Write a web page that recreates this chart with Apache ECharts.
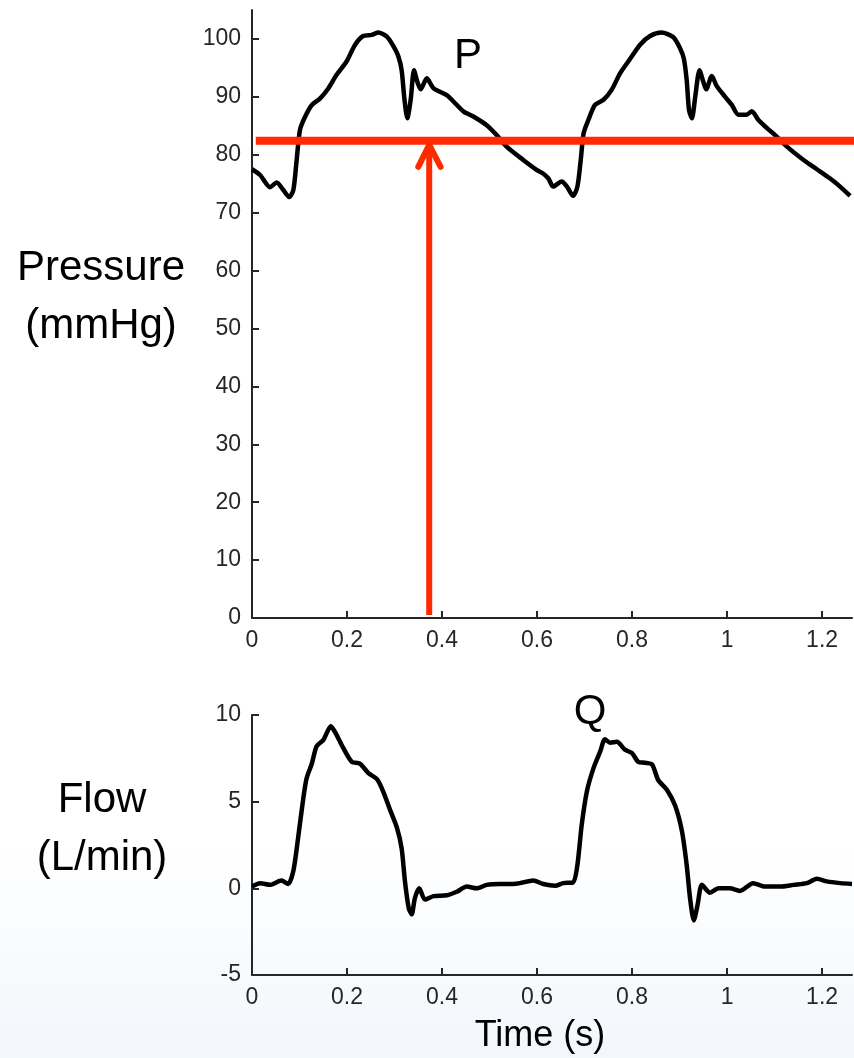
<!DOCTYPE html>
<html>
<head>
<meta charset="utf-8">
<script src="https://cdn.jsdelivr.net/npm/echarts@6/dist/echarts.min.js"></script>
<style>
  html, body { margin: 0; padding: 0; background: #ffffff; }
  #chart { width: 854px; height: 1058px; }
</style>
</head>
<body>
<div id="chart"></div>
<script>
// ---------------- DATA ----------------
const pressureTime = [0.000,0.017,0.038,0.052,0.066,0.078,0.087,0.094,0.101,0.112,0.126,0.143,0.161,0.178,0.199,0.217,0.234,0.252,0.266,0.284,0.298,0.308,0.315,0.321,0.327,0.334,0.341,0.348,0.355,0.368,0.382,0.410,0.424,0.445,0.466,0.494,0.515,0.536,0.571,0.599,0.612,0.624,0.634,0.652,0.663,0.676,0.685,0.692,0.698,0.708,0.722,0.740,0.757,0.775,0.792,0.817,0.838,0.862,0.887,0.901,0.909,0.915,0.920,0.926,0.933,0.942,0.950,0.956,0.968,0.978,0.996,1.010,1.024,1.041,1.052,1.066,1.084,1.101,1.126,1.161,1.189,1.217,1.238,1.259];
const pressureValue = [77.5,76.5,74.4,75.2,73.9,72.7,73.9,79.1,84.3,86.6,88.6,89.7,91.5,93.8,96.1,99.0,100.5,100.7,101.1,100.4,98.7,97.0,94.6,89.5,86.3,89.5,94.6,92.6,91.3,93.2,91.5,90.3,89.2,87.5,86.6,85.1,83.4,81.4,79.1,77.4,76.8,75.9,74.5,75.4,74.5,72.9,74.5,79.1,83.7,86.0,88.6,89.5,91.2,94.1,96.1,99.0,100.5,101.1,100.3,98.4,96.6,92.9,87.7,86.3,90.0,94.6,92.6,91.3,93.6,91.9,90.0,88.6,86.9,86.9,87.5,86.0,84.6,83.4,81.4,79.1,77.5,75.9,74.5,72.9];

const flowTime = [0.000,0.017,0.038,0.062,0.076,0.087,0.097,0.108,0.115,0.126,0.136,0.150,0.166,0.178,0.192,0.210,0.227,0.245,0.263,0.276,0.291,0.305,0.315,0.322,0.330,0.336,0.343,0.352,0.364,0.382,0.410,0.431,0.452,0.473,0.494,0.522,0.550,0.564,0.592,0.613,0.638,0.655,0.676,0.685,0.694,0.705,0.719,0.733,0.743,0.754,0.768,0.785,0.800,0.813,0.827,0.842,0.855,0.873,0.891,0.905,0.915,0.922,0.930,0.938,0.947,0.964,0.982,1.006,1.027,1.055,1.080,1.112,1.140,1.168,1.189,1.210,1.238,1.263];
const flowValue = [0.1,0.3,0.2,0.45,0.25,1.0,2.9,5.2,6.35,7.2,8.2,8.55,9.35,8.85,8.1,7.3,7.2,6.65,6.3,5.6,4.5,3.5,2.3,0.4,-1.15,-1.5,-0.55,0.0,-0.65,-0.45,-0.4,-0.2,0.1,0.0,0.2,0.25,0.25,0.3,0.45,0.25,0.15,0.3,0.35,1.35,3.65,5.6,6.95,7.9,8.6,8.4,8.45,8.0,7.8,7.3,7.25,7.15,6.25,5.7,4.75,3.3,1.35,-0.55,-1.85,-0.95,0.2,-0.25,0.0,0.0,-0.15,0.3,0.1,0.1,0.2,0.3,0.55,0.4,0.3,0.25];

// Red reference marks (data coordinates)
const meanPressure = 82.4;
const meanLineTime = [0.008, 1.27];
const arrowTime = 0.373;
const arrowBase = 0.5;
const arrowTip = 81.7;
const arrowHeadTime = [0.350, 0.373, 0.397];
const arrowHeadValue = [77.9, 81.7, 77.9];

const xTicks = [0, 0.2, 0.4, 0.6, 0.8, 1, 1.2];
const pressureTicks = [0,10,20,30,40,50,60,70,80,90,100];
const flowTicks = [-5, 0, 5, 10];

// ---------------- CHART ----------------
const FONT = '"Liberation Sans", Arial, Helvetica, sans-serif';
const AXIS_COLOR = '#262626';
const zip = (a, b) => a.map((v, i) => [v, b[i]]);

const chart = echarts.init(document.getElementById('chart'), null, { renderer: 'canvas' });

function xAxisCfg(gridIndex) {
  return {
    type: 'value', gridIndex, min: 0, max: 1.263,
    axisLine: { show: true, onZero: false, lineStyle: { color: AXIS_COLOR, width: 2 } },
    axisTick: { show: true, inside: true, length: 7, customValues: xTicks, lineStyle: { color: AXIS_COLOR, width: 2 } },
    axisLabel: { show: true, customValues: xTicks, margin: 11, color: AXIS_COLOR, fontSize: 23, fontFamily: FONT,
                 formatter: v => String(v) },
    splitLine: { show: false }
  };
}
function yAxisCfg(gridIndex, min, max, ticks) {
  return {
    type: 'value', gridIndex, min, max,
    axisLine: { show: true, onZero: false, lineStyle: { color: AXIS_COLOR, width: 2 } },
    axisTick: { show: true, inside: true, length: 7, customValues: ticks, lineStyle: { color: AXIS_COLOR, width: 2 } },
    axisLabel: { show: true, customValues: ticks, margin: 11, color: AXIS_COLOR, fontSize: 23, fontFamily: FONT },
    splitLine: { show: false }
  };
}

const option = {
  animation: false,
  backgroundColor: '#ffffff',
  grid: [
    { left: 252, top: 10, width: 600, height: 608 },
    { left: 252, top: 715, width: 600, height: 260 }
  ],
  xAxis: [xAxisCfg(0), xAxisCfg(1)],
  yAxis: [yAxisCfg(0, 0, 105, pressureTicks), yAxisCfg(1, -5, 10, flowTicks)],
  graphic: [
    { type: 'rect', z: -10, silent: true, shape: { x: 0, y: 840, width: 854, height: 218 },
      style: { fill: new echarts.graphic.LinearGradient(0, 0, 0, 1, [
        { offset: 0, color: 'rgba(232,240,249,0)' },
        { offset: 1, color: 'rgba(232,240,249,0.55)' }
      ]) } },
    { type: 'text', silent: true, x: 101, y: 268, style: { text: 'Pressure', font: '42px ' + FONT, fill: '#000', align: 'center', verticalAlign: 'middle' } },
    { type: 'text', silent: true, x: 101, y: 326, style: { text: '(mmHg)', font: '42px ' + FONT, fill: '#000', align: 'center', verticalAlign: 'middle' } },
    { type: 'text', silent: true, x: 102, y: 800, style: { text: 'Flow', font: '42px ' + FONT, fill: '#000', align: 'center', verticalAlign: 'middle' } },
    { type: 'text', silent: true, x: 102, y: 858, style: { text: '(L/min)', font: '42px ' + FONT, fill: '#000', align: 'center', verticalAlign: 'middle' } },
    { type: 'text', silent: true, x: 540, y: 1036, style: { text: 'Time (s)', font: '36px ' + FONT, fill: '#000', align: 'center', verticalAlign: 'middle' } },
    { type: 'text', silent: true, x: 468, y: 56, style: { text: 'P', font: '42px ' + FONT, fill: '#000', align: 'center', verticalAlign: 'middle' } },
    { type: 'text', silent: true, x: 590, y: 712, style: { text: 'Q', font: '42px ' + FONT, fill: '#000', align: 'center', verticalAlign: 'middle' } }
  ],
  series: [
    { type: 'line', xAxisIndex: 0, yAxisIndex: 0, data: zip(pressureTime, pressureValue),
      showSymbol: false, smooth: 0.25, lineStyle: { color: '#000', width: 4.5, join: 'round' }, z: 3 },
    { type: 'line', xAxisIndex: 1, yAxisIndex: 1, data: zip(flowTime, flowValue),
      showSymbol: false, smooth: 0.25, lineStyle: { color: '#000', width: 4.5, join: 'round' }, z: 3 },
    { type: 'line', xAxisIndex: 0, yAxisIndex: 0, clip: false,
      data: meanLineTime.map(t => [t, meanPressure]),
      showSymbol: false, lineStyle: { color: '#ff2a00', width: 8 }, z: 4 },
    { type: 'line', xAxisIndex: 0, yAxisIndex: 0,
      data: [[arrowTime, arrowBase], [arrowTime, arrowTip - 1.2]],
      showSymbol: false, lineStyle: { color: '#ff2a00', width: 6 }, z: 4 },
    { type: 'line', xAxisIndex: 0, yAxisIndex: 0,
      data: zip(arrowHeadTime, arrowHeadValue),
      showSymbol: false, lineStyle: { color: '#ff2a00', width: 6, cap: 'round', join: 'miter' }, z: 4 }
  ]
};
chart.setOption(option);
</script>
</body>
</html>
